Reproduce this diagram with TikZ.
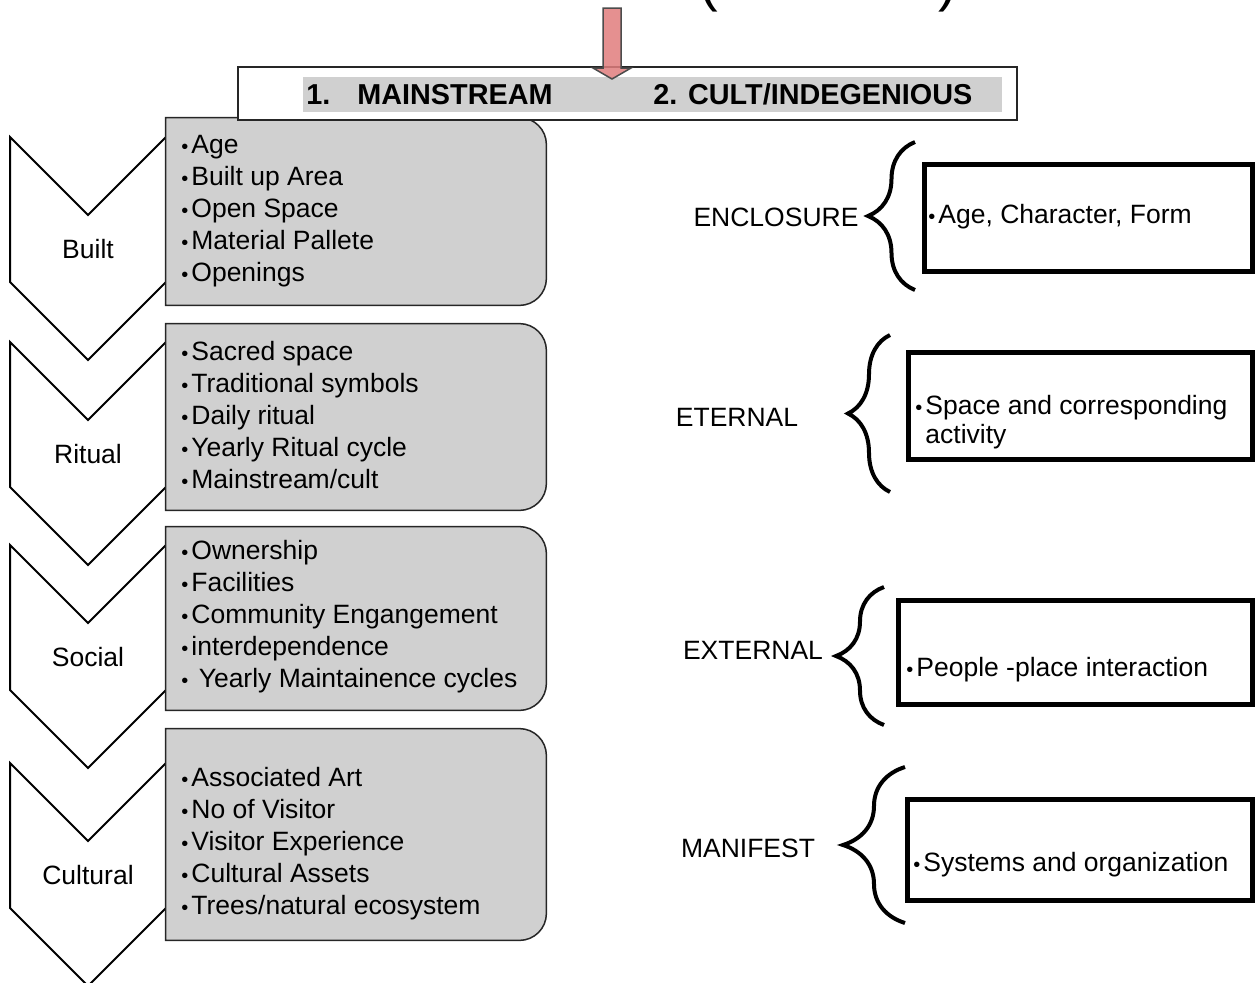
\documentclass[tikz,border=0pt]{standalone}
\usepackage{fontspec}
\setmainfont{Liberation Sans}
\usetikzlibrary{decorations.pathreplacing}
\definecolor{boxgray}{RGB}{208,208,208}
\definecolor{arrowred}{RGB}{224,125,125}
\newcommand\bul{{\fontsize{10pt}{10pt}\selectfont •}\kern1.5pt}
\newcommand\rightround[1]{%
  \draw[boxline] (#1.north west) -- ([xshift=-13.5pt]#1.north east)
    arc[start angle=90, end angle=0, radius=13.5pt]
    -- ([yshift=13.5pt]#1.south east)
    arc[start angle=0, end angle=-90, radius=13.5pt]
    -- (#1.south west) -- cycle;}
\begin{document}
\begin{tikzpicture}[x=0.5pt, y=-0.5pt,
  every node/.style={inner sep=0pt, font=\fontsize{13.25pt}{16pt}\selectfont},
  chev/.style={draw, fill=white, line width=1pt, line join=miter},
  itembox/.style={minimum width=190pt},
  boxline/.style={draw=black!85, fill=boxgray, line width=0.75pt},
  items/.style={anchor=west, align=left},
  sidebox/.style={draw, line width=2.5pt},
  brc/.style={decorate, decoration={brace, amplitude=#1}, line width=2pt},
  hdrtxt/.style={anchor=base west, font=\bfseries\fontsize{14.4pt}{17pt}\selectfont}]
  \useasboundingbox (0,0) rectangle (1255,982);

  \node[anchor=base, font=\fontsize{28pt}{30pt}\selectfont] (lpar) at (709,0) {(};
  \node[anchor=base, font=\fontsize{28pt}{30pt}\selectfont] (rpar) at (948,0) {)};

  \foreach \t/\lbl/\nm in {137/Built/built, 342/Ritual/ritual,
      545/Social/social, 763/Cultural/cultural} {
    \draw[chev] (10,\t) -- (88,\t+78) -- (166,\t) -- (166,\t+145)
      -- (88,\t+223) -- (10,\t+145) -- cycle;
    \node (\nm-lbl) at (88,\t+112) {\lbl};
  }

  \node[itembox, minimum height=93.5pt] (built) at (356,211.5) {};
  \rightround{built}
  \node[items] (built-txt) at (181,211) {\bul Age\\\bul Built up Area\\
    \bul Open Space\\\bul Material Pallete\\\bul Openings};

  \node[itembox, minimum height=93pt] (ritual) at (356,417) {};
  \rightround{ritual}
  \node[items] (ritual-txt) at (181,415) {\bul Sacred space\\
    \bul Traditional symbols\\\bul Daily ritual\\\bul Yearly Ritual cycle\\
    \bul Mainstream/cult};

  \node[itembox, minimum height=91.5pt] (social) at (356,618.5) {};
  \rightround{social}
  \node[items] (social-txt) at (181,617) {\bul Ownership\\\bul Facilities\\
    \bul Community Engangement\\\bul interdependence\\
    \bul\ Yearly Maintainence cycles};

  \node[itembox, minimum height=105.5pt] (cultural) at (356,834.5) {};
  \rightround{cultural}
  \node[items] (cultural-txt) at (181,844) {\bul Associated Art\\
    \bul No of Visitor\\\bul Visitor Experience\\\bul Cultural Assets\\
    \bul Trees/natural ecosystem};

  \node[draw=black!85, fill=white, line width=0.75pt, minimum width=389.5pt,
    minimum height=26.5pt] (hdr) at (627.5,93.5) {};
  \node[fill=boxgray, minimum width=349.5pt, minimum height=17.5pt] (band)
    at (652.5,94.5) {};
  \node[hdrtxt] (one) at (306,104) {1.};
  \node[hdrtxt] (mainstream) at (357,104) {MAINSTREAM};
  \node[hdrtxt] (cult) at (653,104) {2. CULT/INDEGENIOUS};
  \draw[draw=black!70, fill=arrowred, fill opacity=0.85, line width=0.75pt]
    (603,8) -- (621,8) -- (621,68) -- (631,68) -- (612,79) -- (593,68)
    -- (603,68) -- cycle;

  \node (enc-lbl) at (776,217) {ENCLOSURE};
  \draw[brc=23.5pt] (915,290) -- (915,142);
  \node[sidebox, minimum width=164pt, minimum height=53.5pt] (enc)
    at (1088.5,218) {};
  \node[anchor=west] (enc-txt) at (928,217) {\bul Age, Character, Form};

  \node (ete-lbl) at (737,417) {ETERNAL};
  \draw[brc=21pt] (890,492) -- (890,335);
  \node[sidebox, minimum width=172pt, minimum height=53.5pt] (ete)
    at (1080.5,406) {};
  \node[anchor=west, align=left, font=\fontsize{13.25pt}{14.5pt}\selectfont]
    (ete-txt) at (915,422) {\bul Space and corresponding\\\phantom{\bul}activity};

  \node (ext-lbl) at (753,650) {EXTERNAL};
  \draw[brc=24pt] (884,725) -- (884,587);
  \node[sidebox, minimum width=177pt, minimum height=52pt] (ext)
    at (1075.5,652.5) {};
  \node[anchor=west] (ext-txt) at (906,670) {\bul People -place interaction};

  \node (man-lbl) at (748,848) {MANIFEST};
  \draw[brc=31pt] (905,923) -- (905,767);
  \node[sidebox, minimum width=172.5pt, minimum height=50.5pt] (man)
    at (1080,850) {};
  \node[anchor=west] (man-txt) at (913,865) {\bul Systems and organization};
\end{tikzpicture}
\end{document}
